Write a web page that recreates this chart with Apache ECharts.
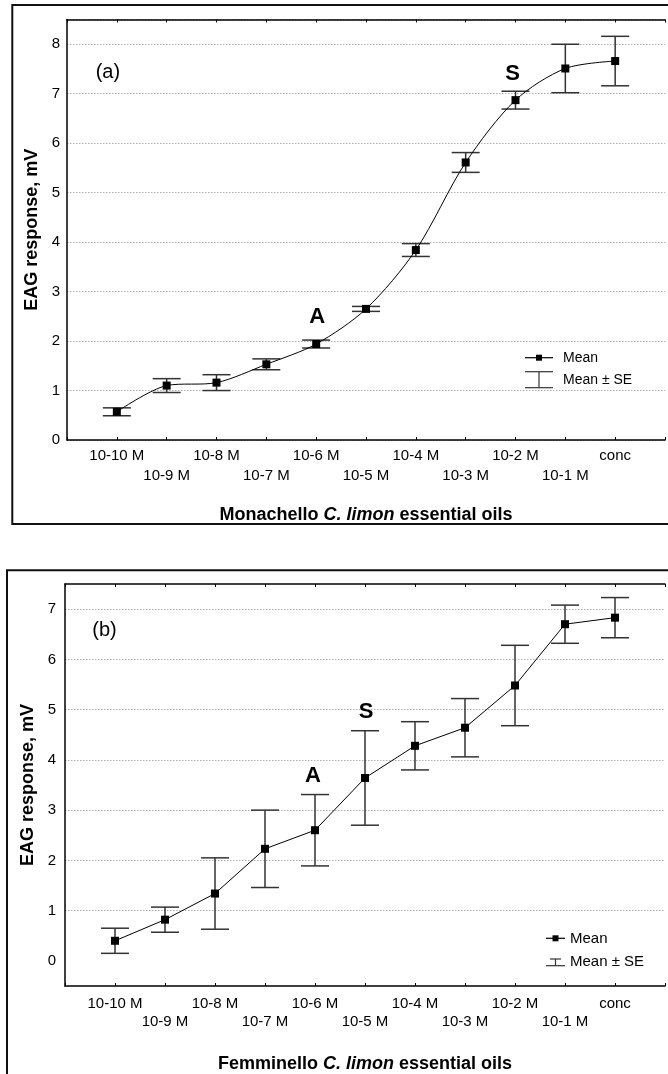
<!DOCTYPE html>
<html>
<head>
<meta charset="utf-8">
<script src="https://cdn.jsdelivr.net/npm/echarts@6/dist/echarts.min.js"></script>
<style>
html,body{margin:0;padding:0;background:#fff;}
#c{width:668px;height:1074px;}
</style>
</head>
<body>
<div id="c"></div>
<script>
// ---- data ----
const categories = ['10-10 M','10-9 M','10-8 M','10-7 M','10-6 M','10-5 M','10-4 M','10-3 M','10-2 M','10-1 M','conc'];
const meanA = [0.57,1.10,1.16,1.53,1.94,2.65,3.84,5.61,6.87,7.51,7.66];
const seA   = [0.08,0.14,0.16,0.11,0.08,0.05,0.13,0.20,0.18,0.49,0.50];
const meanB = [0.40,0.82,1.34,2.23,2.60,3.64,4.28,4.64,5.48,6.70,6.83];
const seB   = [0.25,0.25,0.71,0.77,0.71,0.94,0.48,0.58,0.80,0.38,0.40];
const yTicksA = [0,1,2,3,4,5,6,7,8];
const yTicksB = [0,1,2,3,4,5,6,7];
const titleA = ['Monachello ','C. limon',' essential oils'];
const titleB = ['Femminello ','C. limon',' essential oils'];
const yTitle = 'EAG response, mV';
const legendNames = ['Mean','Mean \u00b1 SE'];
const panelTagA = '(a)';
const panelTagB = '(b)';

const FONT = "'Liberation Sans', Arial, sans-serif";

const chart = echarts.init(document.getElementById('c'), null, {renderer:'canvas', width:668, height:1074});

function xLabel(v){
  const i = Math.round(v) - 1;
  if (i < 0 || i >= categories.length) return '';
  return (i % 2 === 1 ? '\n' : '') + categories[i];
}

function errRender(params, api){
  const x = api.value(0), m = api.value(1), se = api.value(2);
  const t = api.coord([x, m + se]);
  const b = api.coord([x, m - se]);
  const h = 14;
  const st = {stroke:'#333', lineWidth:1.5};
  return {type:'group', children:[
    {type:'line', shape:{x1:t[0], y1:t[1], x2:b[0], y2:b[1]}, style:st},
    {type:'line', shape:{x1:t[0]-h, y1:t[1], x2:t[0]+h, y2:t[1]}, style:st},
    {type:'line', shape:{x1:b[0]-h, y1:b[1], x2:b[0]+h, y2:b[1]}, style:st}
  ]};
}

function bottomX(gridIndex, title, margin, lh){
  return {
    gridIndex, type:'value', position:'bottom', min:0, max:12, interval:1,
    axisLine:{show:true, onZero:false, lineStyle:{color:'#000', width:1.5}},
    axisTick:{show:true, inside:true, length:3, lineStyle:{color:'#000', width:1}},
    splitLine:{show:false},
    axisLabel:{formatter:xLabel, fontFamily:FONT, fontSize:15, color:'#000', margin:margin, lineHeight:lh},
    name:'{b|'+title[0]+'}{i|'+title[1]+'}{b|'+title[2]+'}',
    nameLocation:'middle', nameGap: (gridIndex===0?66:69),
    nameTextStyle:{rich:{
      b:{fontFamily:FONT, fontSize:18, fontWeight:'bold', color:'#000'},
      i:{fontFamily:FONT, fontSize:18, fontWeight:'bold', fontStyle:'italic', color:'#000'}
    }}
  };
}
function topX(gridIndex){
  return {
    gridIndex, type:'value', position:'top', min:0, max:12, interval:1,
    axisLine:{show:true, onZero:false, lineStyle:{color:'#000', width:1.5}},
    axisTick:{show:true, inside:true, length:3, lineStyle:{color:'#000', width:1}},
    splitLine:{show:false}, axisLabel:{show:false}
  };
}

const gridStyle = {color:'#b0b0b0', width:1, type:[1.5,1.5]};

function annot(list){
  return list.map(d => ({
    value:[d[0], d[1]],
    itemStyle:{opacity:1},
    label:{show:true, position:'inside', formatter:d[2], color:'#000', opacity:1, textBorderWidth:0,
      fontFamily:FONT, fontSize:d[3], fontWeight:d[4]}
  }));
}

const option = {
  animation:false,
  backgroundColor:'#fff',
  grid:[
    {left:67, top:19.5, width:605, height:420.5},
    {left:65, top:584, width:611, height:408.3}
  ],
  xAxis:[bottomX(0,titleA,6,20), topX(0), bottomX(1,titleB,8.5,18.5), topX(1)],
  yAxis:[
    {gridIndex:0, type:'value', min:0, max:8.5, interval:1,
     axisLine:{show:true, lineStyle:{color:'#000', width:1.5}}, axisTick:{show:false},
     splitLine:{show:true, lineStyle:gridStyle},
     axisLabel:{fontFamily:FONT, fontSize:15, color:'#000', margin:7,
       formatter:v => (v===Math.round(v) && yTicksA.indexOf(v)>=0) ? String(v) : ''},
     name:yTitle, nameLocation:'middle', nameGap:24,
     nameTextStyle:{fontFamily:FONT, fontSize:18, fontWeight:'bold', color:'#000'}},
    {gridIndex:1, type:'value', min:-0.5, max:7.5, interval:0.5,
     axisLine:{show:true, lineStyle:{color:'#000', width:1.5}}, axisTick:{show:false},
     splitLine:{show:false},
     axisLabel:{fontFamily:FONT, fontSize:15, color:'#000', margin:9,
       formatter:v => (Math.abs(v-Math.round(v))<1e-6 && yTicksB.indexOf(Math.round(v))>=0) ? String(Math.round(v)) : ''},
     name:yTitle, nameLocation:'middle', nameGap:23,
     nameTextStyle:{fontFamily:FONT, fontSize:18, fontWeight:'bold', color:'#000'}}
  ],
  series:[
    {name:legendNames[1], type:'custom', xAxisIndex:0, yAxisIndex:0, z:1,
     renderItem:errRender, data:categories.map((c,i)=>[i+1, meanA[i], seA[i]])},
    {name:legendNames[0], type:'line', xAxisIndex:0, yAxisIndex:0, z:3,
     smooth:0.3, symbol:'rect', symbolSize:8,
     lineStyle:{color:'#000', width:1}, itemStyle:{color:'#000'},
     data:categories.map((c,i)=>[i+1, meanA[i]])},
    {name:legendNames[1], type:'custom', xAxisIndex:2, yAxisIndex:1, z:1,
     renderItem:errRender, data:categories.map((c,i)=>[i+1, meanB[i], seB[i]])},
    {name:legendNames[0], type:'line', xAxisIndex:2, yAxisIndex:1, z:3,
     symbol:'rect', symbolSize:8,
     lineStyle:{color:'#000', width:1}, itemStyle:{color:'#000'},
     data:categories.map((c,i)=>[i+1, meanB[i]]),
     markLine:{silent:true, symbol:'none', label:{show:false}, z:0,
       lineStyle:gridStyle,
       data:yTicksB.filter(v=>v>0).map(v=>({yAxis:v}))}},
    // annotations (a)
    {type:'scatter', xAxisIndex:0, yAxisIndex:0, symbolSize:0, silent:true, z:4,
     itemStyle:{opacity:1},
     data:annot([[0.82,7.43,panelTagA,20,'normal'],[8.94,7.39,'S',22,'bold'],[5.02,2.49,'A',22,'bold']])},
    {type:'scatter', xAxisIndex:2, yAxisIndex:1, symbolSize:0, silent:true, z:4,
     itemStyle:{opacity:1},
     data:annot([[0.79,6.58,panelTagB,20,'normal'],[6.02,4.96,'S',22,'bold'],[4.96,3.68,'A',22,'bold']])}
  ],
  graphic:[
    {type:'rect', shape:{x:12.3, y:5, width:720, height:519}, style:{fill:'none', stroke:'#111', lineWidth:2}, z:-1},
    {type:'rect', shape:{x:7, y:570.3, width:720, height:600}, style:{fill:'none', stroke:'#111', lineWidth:2}, z:-1},
    // legend (a)
    {type:'group', children:[
      {type:'line', shape:{x1:525, y1:357.7, x2:553, y2:357.7}, style:{stroke:'#000', lineWidth:1.2}},
      {type:'rect', shape:{x:536, y:354.7, width:6, height:6}, style:{fill:'#000'}},
      {type:'text', style:{x:563, y:358, text:legendNames[0], font:'14px '+FONT, fill:'#000', verticalAlign:'middle'}},
      {type:'line', shape:{x1:539, y1:371.7, x2:539, y2:387.7}, style:{stroke:'#333', lineWidth:1.2}},
      {type:'line', shape:{x1:525, y1:371.7, x2:553, y2:371.7}, style:{stroke:'#333', lineWidth:1.2}},
      {type:'line', shape:{x1:525, y1:387.7, x2:553, y2:387.7}, style:{stroke:'#333', lineWidth:1.2}},
      {type:'text', style:{x:563, y:380, text:legendNames[1], font:'14px '+FONT, fill:'#000', verticalAlign:'middle'}}
    ]},
    // legend (b)
    {type:'group', children:[
      {type:'line', shape:{x1:546, y1:938.3, x2:565, y2:938.3}, style:{stroke:'#000', lineWidth:1.2}},
      {type:'rect', shape:{x:552.5, y:935.3, width:6, height:6}, style:{fill:'#000'}},
      {type:'text', style:{x:570, y:938.5, text:legendNames[0], font:'15px '+FONT, fill:'#000', verticalAlign:'middle'}},
      {type:'line', shape:{x1:555.5, y1:959, x2:555.5, y2:965.7}, style:{stroke:'#333', lineWidth:1.2}},
      {type:'line', shape:{x1:550, y1:959, x2:561, y2:959}, style:{stroke:'#333', lineWidth:1.2}},
      {type:'line', shape:{x1:546, y1:965.7, x2:565, y2:965.7}, style:{stroke:'#333', lineWidth:1.2}},
      {type:'text', style:{x:570, y:961.5, text:legendNames[1], font:'15px '+FONT, fill:'#000', verticalAlign:'middle'}}
    ]}
  ]
};
chart.setOption(option);
</script>
</body>
</html>
